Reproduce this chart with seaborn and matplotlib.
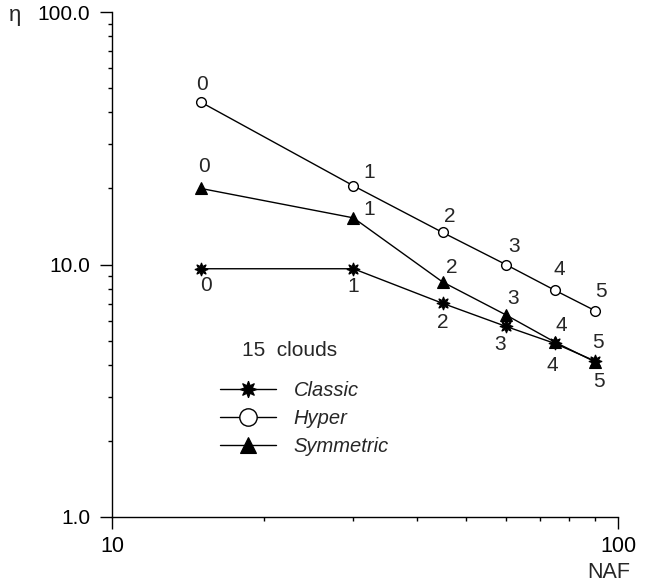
import matplotlib
matplotlib.use("Agg")
import matplotlib.pyplot as plt
import matplotlib.ticker as mticker
from matplotlib.lines import Line2D
import seaborn as sns
import pandas as pd

# ---- data ----
naf = [15, 30, 45, 60, 75, 90]
step_labels = ["0", "1", "2", "3", "4", "5"]
classic = [9.62, 9.62, 7.02, 5.69, 4.87, 4.15]
hyper = [43.9, 20.5, 13.4, 10.0, 7.91, 6.57]
symmetric = [20.0, 15.3, 8.53, 6.32, 4.93, 4.12]
series_names = ["Classic", "Hyper", "Symmetric"]
y_ticks = [1, 10, 100]
y_ticklabels = ["1.0", "10.0", "100.0"]
x_ticks = [10, 100]
x_ticklabels = ["10", "100"]
legend_title = "15  clouds"

# label offsets in pixels (style)
off_classic = [(5, -17), (0, -18), (0, -19), (-6, -18), (-2, -22), (4, -21)]
off_hyper = [(1, 18), (16, 13), (7, 16), (8, 18), (5, 21), (6, 19)]
off_sym = [(3, 22), (16, 8), (9, 14), (7, 16), (7, 17), (3, 19)]

sns.set_style("ticks")
plt.rcParams["font.family"] = ["Liberation Sans", "DejaVu Sans"]

W, H = 648, 585
fig = plt.figure(figsize=(W / 100, H / 100), dpi=100)
L, R, T, B = 112, 618, 12, 517
ax = fig.add_axes([L / W, 1 - B / H, (R - L) / W, (B - T) / H])

df = pd.DataFrame({
    "NAF": naf * 3,
    "eta": classic + hyper + symmetric,
    "series": sum([[n] * len(naf) for n in series_names], []),
})

styles = {
    "Classic": dict(marker=(8, 1, 0), markersize=9.5, markerfacecolor="black",
                    markeredgecolor="black", markeredgewidth=0.8),
    "Hyper": dict(marker="o", markersize=7, markerfacecolor="white",
                  markeredgecolor="black", markeredgewidth=1.0),
    "Symmetric": dict(marker="^", markersize=8.5, markerfacecolor="black",
                      markeredgecolor="black", markeredgewidth=0.8),
}
legend_sizes = {"Classic": 12, "Hyper": 12.5, "Symmetric": 11.5}

for name in series_names:
    sub = df[df["series"] == name]
    sns.lineplot(data=sub, x="NAF", y="eta", ax=ax, color="black",
                 linewidth=1.0, legend=False, **styles[name])

ax.set_xscale("log")
ax.set_yscale("log")
ax.set_xlim(10, 100)
ax.set_ylim(1, 100)

ax.set_xticks(x_ticks)
ax.set_xticklabels(x_ticklabels)
ax.set_yticks(y_ticks)
ax.set_yticklabels(y_ticklabels)
ax.xaxis.set_minor_locator(mticker.LogLocator(base=10, subs=range(2, 10)))
ax.yaxis.set_minor_locator(mticker.LogLocator(base=10, subs=range(2, 10)))
ax.xaxis.set_minor_formatter(mticker.NullFormatter())
ax.yaxis.set_minor_formatter(mticker.NullFormatter())

ax.tick_params(axis="both", which="major", length=8.5, width=1,
               color="black", labelcolor="black")
ax.tick_params(axis="both", which="minor", length=3, width=1, color="black")
ax.tick_params(axis="x", which="major", labelsize=15.5, pad=5)
ax.tick_params(axis="y", which="major", labelsize=15, pad=7)

for s in ["top", "right"]:
    ax.spines[s].set_visible(False)
for s in ["left", "bottom"]:
    ax.spines[s].set_color("black")
    ax.spines[s].set_linewidth(1.0)

ax.set_xlabel("NAF", fontsize=15.5)
ax.xaxis.set_label_coords((609 - L) / (R - L), (B - 572) / (B - T))
ax.xaxis.label.set_va("center")
ax.set_ylabel("η", fontsize=16, rotation=0)
ax.yaxis.set_label_coords((15 - L) / (R - L), (B - 15) / (B - T))
ax.yaxis.label.set_va("center")
ax.yaxis.label.set_ha("center")

for vals, offs in [(classic, off_classic), (hyper, off_hyper), (symmetric, off_sym)]:
    for xv, yv, lab, off in zip(naf, vals, step_labels, offs):
        ax.annotate(lab, (xv, yv), xytext=off, textcoords="offset pixels",
                    ha="center", va="center", fontsize=15)

handles = []
for n in series_names:
    st = dict(styles[n])
    st["markersize"] = legend_sizes[n]
    handles.append(Line2D([0], [0], color="black", linewidth=1.0, **st))
leg = ax.legend(handles, series_names, loc="upper left",
                bbox_to_anchor=(220 / W, 1 - 381 / H), bbox_transform=fig.transFigure,
                frameon=False, handlelength=2.8, handletextpad=0.85, labelspacing=0.45,
                borderpad=0, borderaxespad=0, prop=dict(size=14.5, style="italic"))
fig.text(242 / W, 1 - 350 / H, legend_title, fontsize=15, ha="left", va="center")

fig.savefig("out.png", dpi=100)
